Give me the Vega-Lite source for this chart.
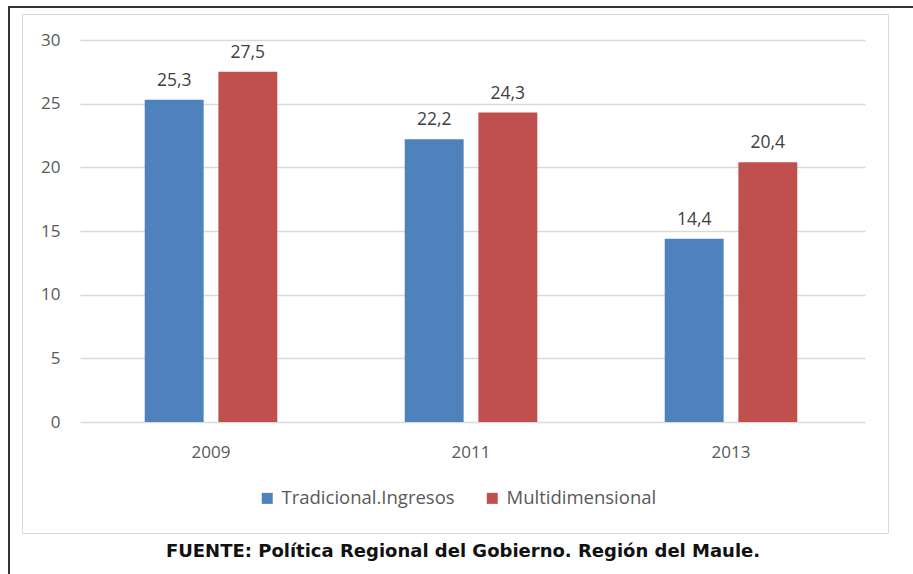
{
  "$schema": "https://vega.github.io/schema/vega-lite/v6.json",
  "autosize": {"type": "none"},
  "padding": {"left": 9, "top": 7, "right": 0, "bottom": 0},
  "width": 904,
  "height": 567,
  "background": "white",
  "title": {
    "text": "FUENTE: Política Regional del Gobierno. Región del Maule.",
    "orient": "bottom",
    "frame": "group",
    "anchor": "middle",
    "offset": -31,
    "font": "DejaVu Sans",
    "fontSize": 18,
    "fontWeight": "bold",
    "color": "#111111",
    "dx": 2
  },
  "data": {
    "values": [
      {"year": "2009", "series": "Tradicional.Ingresos", "value": 25.3},
      {"year": "2009", "series": "Multidimensional", "value": 27.5},
      {"year": "2011", "series": "Tradicional.Ingresos", "value": 22.2},
      {"year": "2011", "series": "Multidimensional", "value": 24.3},
      {"year": "2013", "series": "Tradicional.Ingresos", "value": 14.4},
      {"year": "2013", "series": "Multidimensional", "value": 20.4}
    ]
  },
  "resolve": {"axis": {"x": "independent", "y": "independent"}},
  "layer": [
    {
      "mark": {"type": "bar"},
      "encoding": {
        "x": {
          "field": "year",
          "type": "nominal",
          "sort": ["2009", "2011", "2013"],
          "scale": {"paddingInner": 0.49, "paddingOuter": 0.4835, "align": 0.5398},
          "axis": {
            "orient": "bottom",
            "offset": -41,
            "title": null,
            "labelAngle": 0,
            "ticks": false,
            "tickSize": 0,
            "labelPadding": -89,
            "labelFont": "Open Sans",
            "labelFontSize": 17,
            "labelColor": "#595959",
            "domain": true,
            "domainColor": "#d9d9d9",
            "domainWidth": 1,
            "domainDash": [0, 13, 866, 25],
            "grid": false
          }
        },
        "xOffset": {
          "field": "series",
          "type": "nominal",
          "sort": ["Tradicional.Ingresos", "Multidimensional"],
          "scale": {"paddingInner": 0.2, "paddingOuter": 0}
        },
        "y": {
          "field": "value",
          "type": "quantitative",
          "scale": {"domain": [-11.937, 32.592], "nice": false, "zero": false},
          "axis": {
            "orient": "right",
            "offset": -891,
            "title": null,
            "values": [0, 5, 10, 15, 20, 25, 30],
            "ticks": false,
            "tickSize": 0,
            "labelAlign": "right",
            "labelPadding": 38,
            "labelFont": "Open Sans",
            "labelFontSize": 17,
            "labelColor": "#595959",
            "grid": true,
            "gridColor": "#d9d9d9",
            "gridWidth": 1.5,
            "gridDash": [0, 48, 785, 71],
            "domain": true,
            "domainColor": "#d9d9d9",
            "domainDash": [0, 41, 519, 7]
          }
        },
        "y2": {"datum": 0},
        "color": {
          "field": "series",
          "type": "nominal",
          "scale": {"domain": ["Tradicional.Ingresos", "Multidimensional"], "range": ["#4f81bd", "#c0504d"]},
          "legend": {
            "orient": "none",
            "legendX": 249,
            "legendY": 482,
            "direction": "horizontal",
            "title": null,
            "symbolType": "square",
            "symbolSize": 121,
            "symbolStrokeWidth": 0,
            "labelFont": "Open Sans",
            "labelFontSize": 18.5,
            "labelColor": "#595959",
            "labelOffset": 5,
            "labelLimit": 400,
            "columnPadding": 28,
            "padding": 0
          }
        }
      }
    },
    {
      "mark": {"type": "text", "baseline": "alphabetic", "dy": -14, "font": "Open Sans", "fontSize": 17.5, "color": "#404040"},
      "encoding": {
        "x": {
          "field": "year",
          "type": "nominal",
          "sort": ["2009", "2011", "2013"],
          "axis": {
            "orient": "top",
            "offset": -7,
            "title": null,
            "labels": false,
            "ticks": false,
            "grid": false,
            "domain": true,
            "domainColor": "#d9d9d9",
            "domainWidth": 1,
            "domainDash": [0, 13, 866, 25]
          }
        },
        "xOffset": {"field": "series", "type": "nominal", "sort": ["Tradicional.Ingresos", "Multidimensional"]},
        "y": {
          "field": "value",
          "type": "quantitative",
          "axis": {
            "orient": "right",
            "offset": -25,
            "title": null,
            "labels": false,
            "ticks": false,
            "grid": false,
            "domain": true,
            "domainColor": "#d9d9d9",
            "domainDash": [0, 41, 519, 7]
          }
        },
        "text": {"field": "value", "type": "quantitative", "format": ".1f"}
      }
    }
  ],
  "config": {
    "locale": {"number": {"decimal": ",", "thousands": ".", "grouping": [3], "currency": ["", " €"]}},
    "font": "Open Sans",
    "view": {"stroke": "#333333", "strokeWidth": 2, "strokeDash": [904, 1471, 567, 2]}
  }
}
